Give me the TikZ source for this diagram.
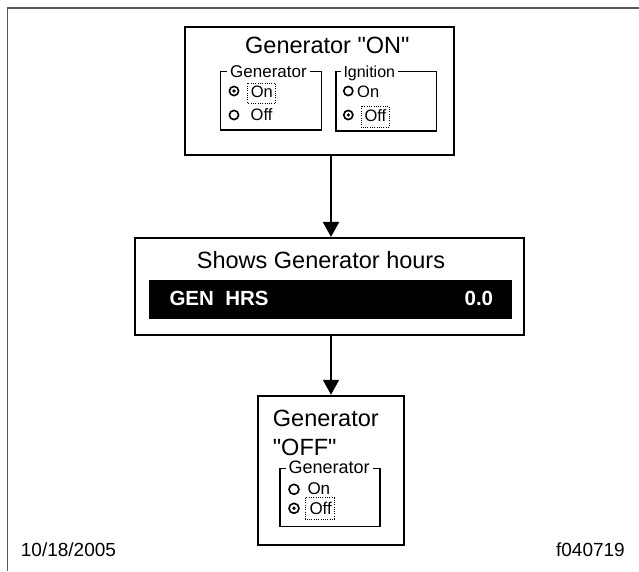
\documentclass[tikz,border=0pt]{standalone}
\usepackage{fontspec}
\setmainfont{Liberation Sans}
\usetikzlibrary{arrows.meta}
\newcommand{\dq}{\XeTeXglyph\XeTeXcharglyph"22\relax}
\tikzset{
  bigbox/.style={draw, line width=2.5pt, minimum width=#1, inner sep=0pt},
  grpbox/.style={draw, line width=1.5pt},
  grplabel/.style={fill=white, inner xsep=3pt, inner ysep=0pt, anchor=base west, font=\fontsize{17}{20}\selectfont},
  txt/.style={inner sep=0pt, anchor=base west},
  radio/.style={line width=1.6pt},
  focus/.style={line width=1pt, dash pattern=on 1pt off 1.3pt},
  arr/.style={line width=2pt, -{Triangle[width=16pt,length=15pt]}},
}
\begin{document}
\begin{tikzpicture}[x=1pt,y=-1pt]
\useasboundingbox (0,0) rectangle (639,571);
% outer frame
\draw[black!65, line width=1.3pt] (7.3,571) -- (7.3,8) -- (639,8);

% ---------- box 1 ----------
\node[bigbox=269pt, minimum height=128pt] (box1) at (319.5,91) {};
\node[txt, font=\fontsize{23.5}{28}\selectfont] (t1) at (245,53) {Generator \dq ON\dq};
% generator group
\draw[grpbox] (220.7,71.7) rectangle (321.7,130);
\node[grplabel, inner xsep=3pt] (g1lab) at (227,77) {Generator};
\draw[radio] (234,91) circle (4.6pt);
\fill (234,91) circle (1.8pt);
\draw[radio] (234,115) circle (4.6pt);
\node[txt, font=\fontsize{16.5}{19}\selectfont] (g1on) at (250.7,97) {On};
\node[txt, font=\fontsize{16.5}{19}\selectfont] (g1off) at (250.5,120.5) {Off};
\draw[focus] (247.7,83.3) rectangle (275.7,103.3);
% ignition group
\draw[grpbox] (336,71.7) rectangle (436.7,131);
\node[grplabel, font=\fontsize{16}{19}\selectfont] (i1lab) at (340.3,77) {Ignition};
\draw[radio] (348.3,91) circle (4.6pt);
\draw[radio] (348.3,115) circle (4.6pt);
\fill (348.3,115) circle (1.8pt);
\node[txt, font=\fontsize{16.5}{19}\selectfont] (i1on) at (357,97) {On};
\node[txt, font=\fontsize{16.5}{19}\selectfont] (i1off) at (364.3,121) {Off};
\draw[focus] (361,106) rectangle (389,127.3);

% ---------- box 2 ----------
\node[bigbox=389pt, minimum height=97pt] (box2) at (329.5,286.7) {};
\node[txt, font=\fontsize{23.5}{28}\selectfont] (t2) at (196.7,268.3) {Shows Generator hours};
\fill (149,280) rectangle (511.7,319.3);
\node[txt, text=white, font=\bfseries\fontsize{20.5}{24}\selectfont] (gen) at (169.3,305) {GEN\ \ HRS};
\node[inner sep=0pt, anchor=base east, text=white, font=\bfseries\fontsize{20.5}{24}\selectfont] (val) at (493.3,305) {0.0};

% ---------- box 3 ----------
\node[bigbox=146pt, minimum height=149pt] (box3) at (331,470.5) {};
\node[txt, font=\fontsize{23.5}{28}\selectfont] (t3a) at (272.7,426) {Generator};
\node[txt, font=\fontsize{23.5}{28}\selectfont] (t3b) at (272.7,455) {\dq OFF\dq};
\draw[grpbox] (280,468.3) rectangle (380,526.7);
\node[grplabel, font=\fontsize{18}{21}\selectfont] (g3lab) at (285.3,473.5) {Generator};
\draw[radio] (294,489.3) circle (5pt);
\draw[radio] (294,508.3) circle (5pt);
\fill (294,508.3) circle (1.9pt);
\node[txt, font=\fontsize{17}{20}\selectfont] (g3on) at (307.3,494.5) {On};
\node[txt, font=\fontsize{17}{20}\selectfont] (g3off) at (309.3,514.5) {Off};
\draw[focus] (305,497.7) rectangle (334.3,519);

% ---------- arrows ----------
\draw[arr] (box1.south -| box3.center) -- (box2.north -| box3.center);
\draw[arr] (box2.south -| box3.center) -- (box3.north);

% ---------- footer ----------
\node[txt, font=\fontsize{19}{22}\selectfont] (date) at (20.7,556.7) {10/18/2005};
\node[inner sep=0pt, anchor=base east, font=\fontsize{19}{22}\selectfont] (fig) at (625,556.7) {f040719};
\end{tikzpicture}
\end{document}
